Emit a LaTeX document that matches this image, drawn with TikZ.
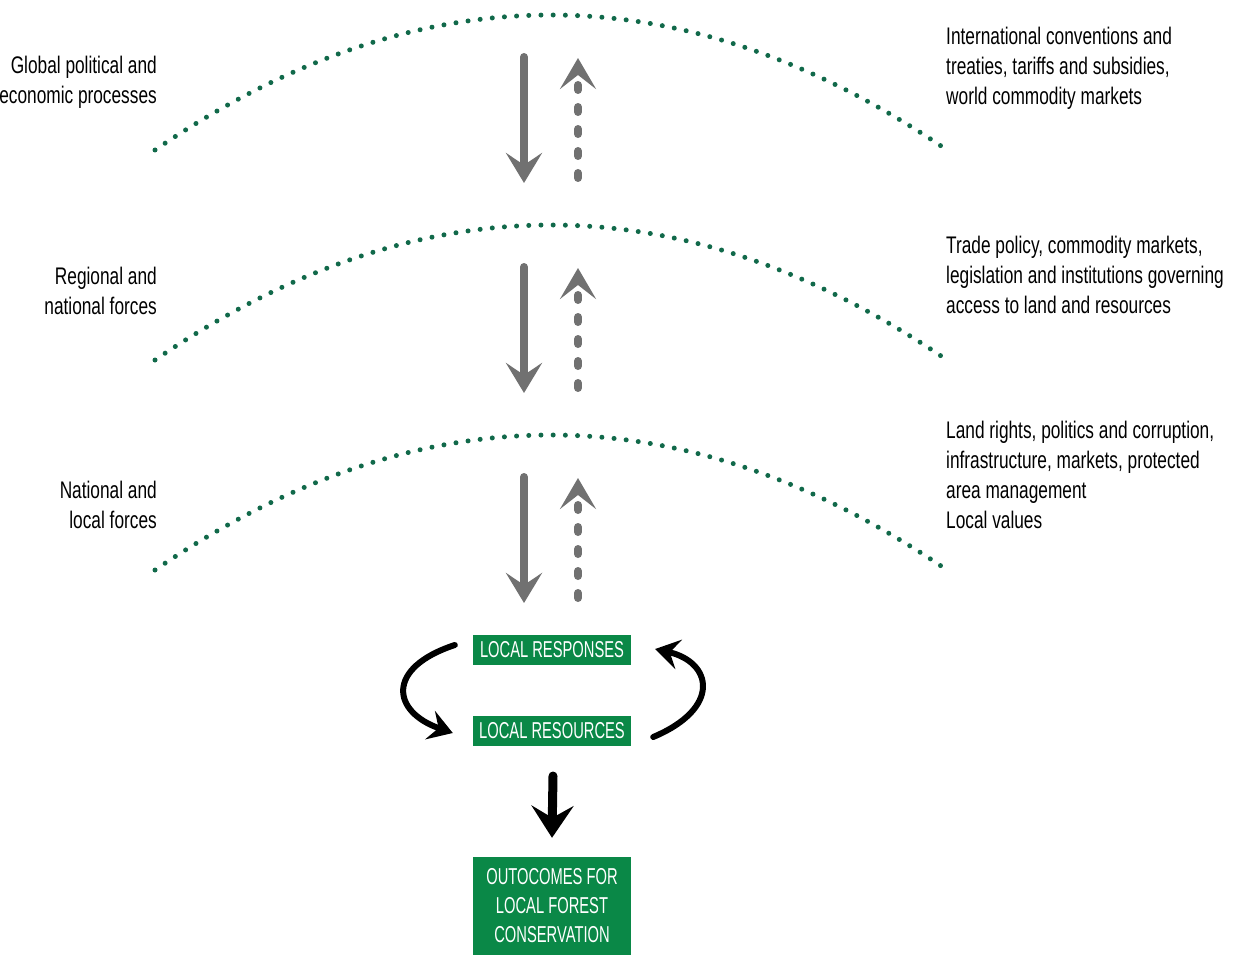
\documentclass[tikz,border=0pt]{standalone}
\usepackage{fontspec}
\setmainfont{Liberation Sans}[FakeStretch=0.72]
\newfontfamily\boxfont{Liberation Sans}[FakeStretch=0.64]
\usetikzlibrary{arrows.meta}
\definecolor{dotgreen}{HTML}{11694A}
\definecolor{boxgreen}{HTML}{0A8847}
\definecolor{flowgray}{HTML}{717171}
\tikzset{
  level/.style={draw=dotgreen, line width=5pt, line cap=round, dash pattern=on 0pt off 12.2pt},
  push/.style={draw=flowgray, line width=8pt, line cap=round,
    -{Stealth[length=30pt,width=36pt,inset=12pt]}},
  pull/.style={draw=flowgray, line width=8pt, line cap=round, dash pattern=on 5pt off 17pt,
    -{Stealth[length=31pt,width=36pt,inset=14pt]}},
  loop/.style={draw=black, line width=6pt, line cap=round,
    -{Stealth[length=24pt,width=30pt,inset=9pt]}},
  result/.style={draw=black, line width=9pt, line cap=round,
    -{Stealth[length=32pt,width=42pt,inset=12pt]}},
  labtext/.style={font=\fontsize{24}{30}\selectfont, inner sep=0pt},
  lableft/.style={labtext, align=right, anchor=base east},
  labright/.style={labtext, align=left, anchor=base west},
  greenbox/.style={fill=boxgreen, text=white, minimum width=158pt, inner sep=0pt,
    font=\boxfont\fontsize{23}{29}\selectfont, align=center},
}
\begin{document}
\begin{tikzpicture}[x=1pt,y=-1pt]
  \useasboundingbox (0,0) rectangle (1243,955);

  % three levels: dotted arc, down and up flow
  \foreach \y/\n in {0/a,210/b,420/c}{
    \coordinate (\n L) at (155,150+\y);
    \coordinate (\n R) at (947,150+\y);
    \draw[level] (\n L) .. controls (419,-30+\y) and (683,-30+\y) .. (\n R);
    \coordinate (\n top) at (524,57+\y);
    \coordinate (\n bot) at (524,183+\y);
    \coordinate (\n up) at (578,58+\y);
    \coordinate (\n low) at (578,178+\y);
    \draw[push] (\n top) -- (\n bot);
    \draw[pull] (\n low) -- (\n up);
  }

  % left labels (anchored at the last line)
  \node[lableft] (global) at (157,104) {Global political and\\economic processes};
  \node[lableft] (regional) at (157,314) {Regional and\\national forces};
  \node[lableft] (national) at (157,528) {National and\\local forces};

  % right labels
  \node[labright] (conventions) at (946,105)
    {International conventions and\\treaties, tariffs and subsidies,\\world commodity markets};
  \node[labright] (trade) at (946,313)
    {Trade policy, commodity markets,\\legislation and institutions governing\\access to land and resources};
  \node[labright] (rights) at (946,528)
    {Land rights, politics and corruption,\\infrastructure, markets, protected\\area management\\Local values};

  % local level
  \node[greenbox, minimum height=30pt] (responses) at (552,650) {LOCAL RESPONSES};
  \node[greenbox, minimum height=30pt] (resources) at (552,731) {LOCAL RESOURCES};
  \node[greenbox, minimum height=98pt] (outcomes) at (552,906)
    {OUTOCOMES FOR\\LOCAL FOREST\\CONSERVATION};

  \draw[loop] ([shift={(-18pt,5pt)}]responses.west)
    .. controls (385,668) and (392,712) .. ([shift={(-20pt,-2pt)}]resources.west);
  \draw[loop] ([shift={(22pt,-6pt)}]resources.east)
    .. controls (722,708) and (712,662) .. ([shift={(24pt,1pt)}]responses.east);

  \coordinate (outtop) at (553,776);
  \draw[result] (outtop) -- ([yshift=19pt]outcomes.north);
\end{tikzpicture}
\end{document}
